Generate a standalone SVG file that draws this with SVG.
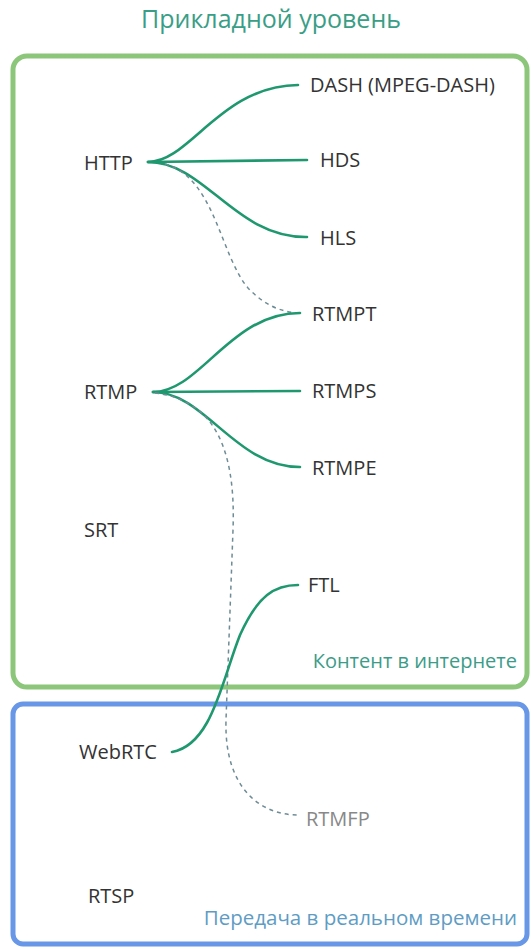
<svg xmlns="http://www.w3.org/2000/svg" width="531" height="950" viewBox="0 0 531 950">
<style>
text{font-family:"Open Sans","Noto Sans","Liberation Sans",sans-serif;font-size:20px;fill:#333333}
.t{font-size:25px;fill:#3a9e86}
.gl{fill:#3c9c88}
.bl{fill:#5e9cc4}
.g{fill:#888888}
.c{fill:none;stroke:#1f9870;stroke-width:2.6;stroke-linecap:round}
.d{fill:none;stroke:#6e8c96;stroke-width:1.5;stroke-dasharray:4 4}
</style>
<rect width="531" height="950" fill="#ffffff"/>
<text class="t" x="271" y="28" text-anchor="middle">Прикладной уровень</text>
<g id="zone-internet"><rect x="13" y="56" width="514" height="631" rx="14" fill="none" stroke="#8cc67a" stroke-width="5"/><text class="gl" x="517" y="668" text-anchor="end">Контент в интернете</text></g>
<g id="zone-realtime"><rect x="13" y="704" width="514" height="240" rx="10" fill="none" stroke="#6797e6" stroke-width="5"/><text class="bl" x="517" y="925" text-anchor="end" style="font-size:20.5px">Передача в реальном времени</text></g>
<g id="connectors">
<path class="c" d="M148,162 C190,162 220,86 298,85"/>
<path class="c" d="M148,162 L307,160"/>
<path class="c" d="M148,162 C205,162 235,238 307,237"/>
<path class="d" d="M165,164 C215,178 220,255 248,288 C265,306 282,312 298,313"/>
<path class="c" d="M153,392 C200,392 230,313 300,313"/>
<path class="c" d="M153,392 L300,391"/>
<path class="c" d="M153,392 C205,392 235,467 300,467"/>
<path class="d" d="M155,393 C215,400 236,450 233,530 L226,720 C224,790 262,815 298,815"/>
<path class="c" d="M172,752 C212,745 222,680 240,635 C258,595 275,585 298,585"/>
</g>
<g id="HTTP"><text x="84" y="170">HTTP</text></g>
<g id="DASH"><text x="310" y="92">DASH (MPEG-DASH)</text></g>
<g id="HDS"><text x="320" y="167">HDS</text></g>
<g id="HLS"><text x="320" y="245">HLS</text></g>
<g id="RTMPT"><text x="312" y="321">RTMPT</text></g>
<g id="RTMP"><text x="84" y="399">RTMP</text></g>
<g id="RTMPS"><text x="312" y="398">RTMPS</text></g>
<g id="RTMPE"><text x="312" y="475">RTMPE</text></g>
<g id="SRT"><text x="84" y="537">SRT</text></g>
<g id="FTL"><text x="308" y="592">FTL</text></g>
<g id="WebRTC"><text x="79" y="759">WebRTC</text></g>
<g id="RTMFP"><text class="g" x="306" y="826">RTMFP</text></g>
<g id="RTSP"><text x="88" y="903">RTSP</text></g>
</svg>
